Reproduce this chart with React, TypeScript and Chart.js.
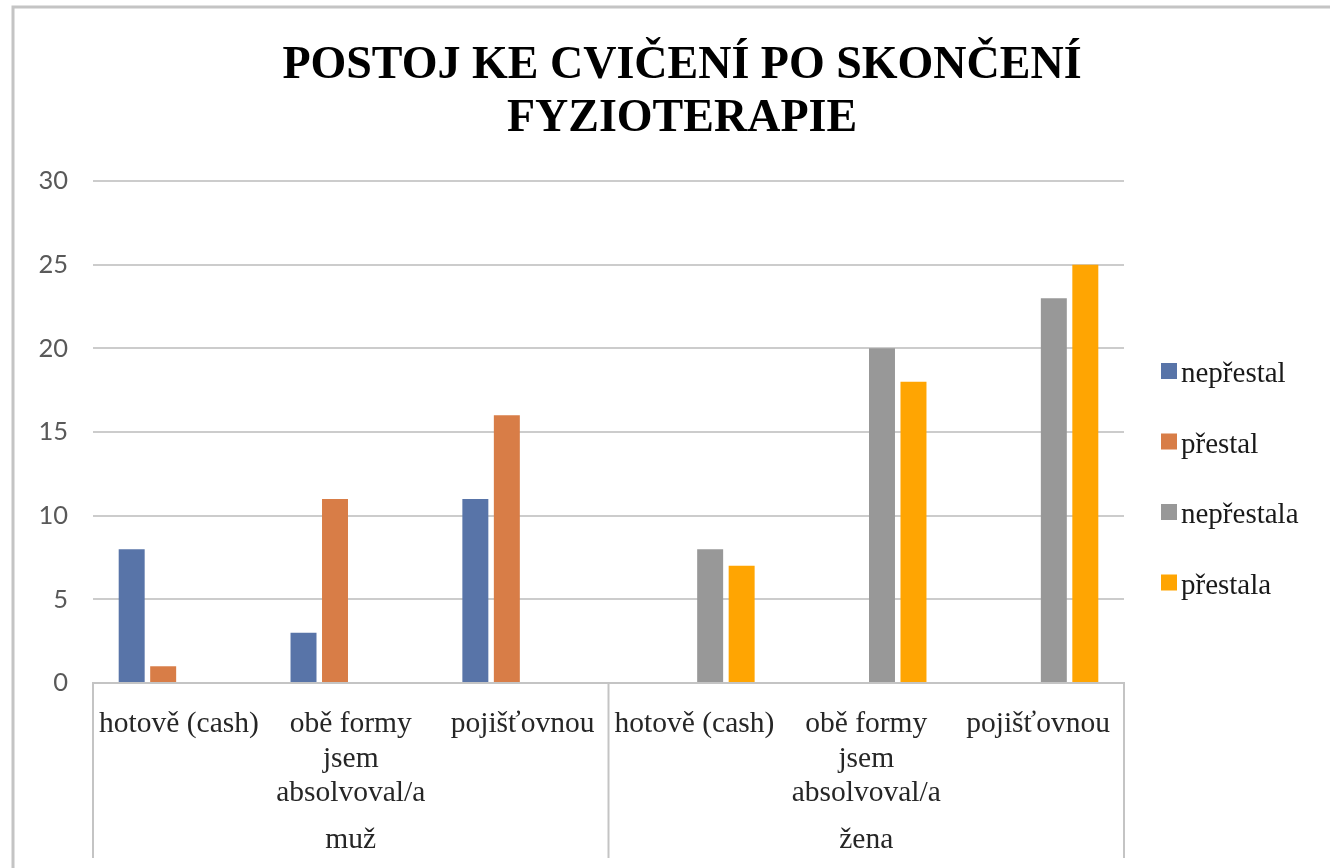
import React, { useEffect, useRef } from 'react';
import { Chart, registerables } from 'chart.js';

Chart.register(...registerables);

// ---- data ----
const titleLines = ['POSTOJ KE CVIČENÍ PO SKONČENÍ', 'FYZIOTERAPIE'];
const categories: string[][] = [
  ['hotově (cash)'],
  ['obě formy', 'jsem', 'absolvoval/a'],
  ['pojišťovnou'],
  ['hotově (cash)'],
  ['obě formy', 'jsem', 'absolvoval/a'],
  ['pojišťovnou'],
];
const groups = ['muž', 'žena'];
const groupSizes = [3, 3];
const seriesNames = ['nepřestal', 'přestal', 'nepřestala', 'přestala'];
const seriesColors = ['#5874A8', '#D87D47', '#989898', '#FFA502'];
const nepRestal = [8, 3, 11, null, null, null];
const pRestal = [1, 11, 16, null, null, null];
const nepRestala = [null, null, null, 8, 20, 23];
const pRestala = [null, null, null, 7, 18, 25];
const yMin = 0;
const yMax = 30;
const yStep = 5;

const SERIF = '"Liberation Serif", "Times New Roman", serif';
const LINE = '#c4c4c4';

const decor = {
  id: 'decor',
  beforeDraw(chart: any) {
    const { ctx } = chart;
    ctx.save();
    ctx.strokeStyle = '#c4c4c4';
    ctx.lineWidth = 3;
    ctx.beginPath();
    ctx.moveTo(13, chart.height);
    ctx.lineTo(13, 7);
    ctx.lineTo(chart.width, 7);
    ctx.stroke();
    ctx.restore();
  },
  afterDraw(chart: any) {
    const { ctx, chartArea } = chart;
    const x = chart.scales.x;
    ctx.save();
    // title
    ctx.fillStyle = '#000';
    ctx.font = `bold 46px ${SERIF}`;
    ctx.textAlign = 'center';
    ctx.textBaseline = 'alphabetic';
    titleLines.forEach((t, i) => ctx.fillText(t, 682, 78 + i * 52.5));

    // group separators and labels
    const half = (x.getPixelForValue(1) - x.getPixelForValue(0)) / 2;
    let idx = 0;
    const bounds: number[] = [x.getPixelForValue(0) - half];
    groupSizes.forEach((n) => {
      idx += n;
      bounds.push(x.getPixelForValue(idx - 1) + half);
    });
    ctx.strokeStyle = LINE;
    ctx.lineWidth = 2;
    bounds.forEach((b) => {
      ctx.beginPath();
      ctx.moveTo(b, chartArea.bottom);
      ctx.lineTo(b, 858);
      ctx.stroke();
    });
    ctx.fillStyle = '#262626';
    ctx.font = `29.5px ${SERIF}`;
    groups.forEach((g, i) => {
      ctx.fillText(g, (bounds[i] + bounds[i + 1]) / 2, 848);
    });

    // legend
    ctx.font = `29px ${SERIF}`;
    chart.data.datasets.forEach((ds: any, i: number) => {
      const base = 382 + i * 70.5;
      ctx.fillStyle = ds.backgroundColor;
      ctx.fillRect(1161, base - 19, 16, 16);
      ctx.fillStyle = '#1a1a1a';
      ctx.textAlign = 'left';
      ctx.fillText(ds.label, 1181, base);
    });
    ctx.restore();
  },
};

export default function App() {
  const ref = useRef<HTMLCanvasElement>(null);
  useEffect(() => {
    if (!ref.current) return;
    const data = [nepRestal, pRestal, nepRestala, pRestala];
    const chart = new Chart(ref.current, {
      type: 'bar',
      data: {
        labels: categories,
        datasets: seriesNames.map((name, i) => ({
          label: name,
          data: data[i],
          backgroundColor: seriesColors[i],
          borderWidth: 0,
          categoryPercentage: 0.733,
          barPercentage: 0.825,
        })),
      },
      options: {
        responsive: false,
        animation: false,
        events: [],
        devicePixelRatio: 1,
        layout: { padding: { top: 181, right: 206, bottom: 0, left: 0 } },
        plugins: {
          legend: { display: false },
          title: { display: false },
          tooltip: { enabled: false },
        },
        scales: {
          x: {
            type: 'category',
            offset: true,
            grid: { display: false },
            border: { display: true, color: LINE, width: 2 },
            ticks: {
              font: { family: SERIF, size: 29.5, lineHeight: 1.17 },
              color: '#262626',
              maxRotation: 0,
              autoSkip: false,
              padding: 16,
            },
            afterFit: (s: any) => {
              s.height = 185;
            },
          },
          y: {
            min: yMin,
            max: yMax,
            ticks: {
              stepSize: yStep,
              font: { family: 'Lato, "Liberation Sans", sans-serif', size: 25.5 },
              color: '#595959',
              padding: 25,
            },
            grid: { color: '#cccccc', lineWidth: 2, drawTicks: false },
            border: { display: false },
            afterFit: (s: any) => {
              s.width = 93;
            },
          },
        },
      },
      plugins: [decor],
    });
    return () => chart.destroy();
  }, []);
  return (
    <div style={{ position: 'fixed', left: 0, top: 0, width: 1330, height: 868, background: '#fff' }}>
      <canvas ref={ref} width={1330} height={868} />
    </div>
  );
}
